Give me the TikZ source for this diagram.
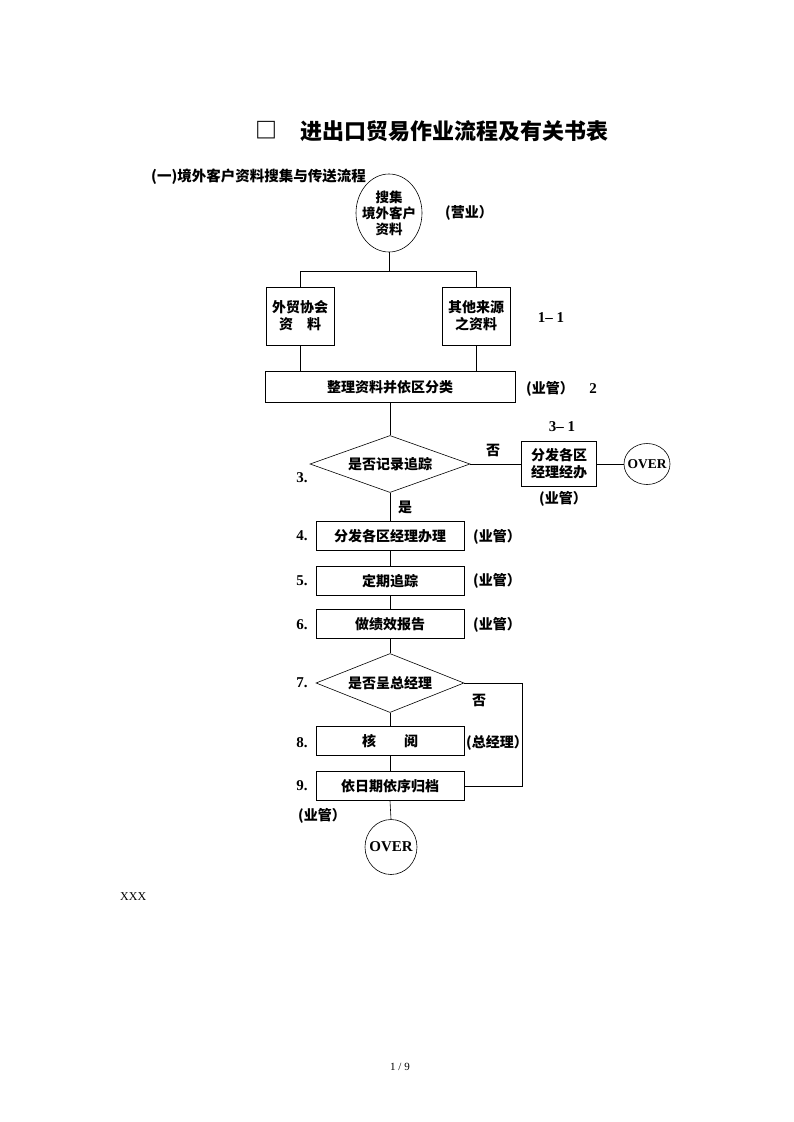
\documentclass[tikz,border=0pt]{standalone}
\usepackage{fontspec}
\setmainfont{Liberation Serif}
\newfontfamily\cjk{Noto Sans CJK SC}
\usepackage{tikz}
\usetikzlibrary{shapes.geometric,positioning}

\begin{document}
\begin{tikzpicture}[x=1pt, y=-1pt,
  every node/.style={inner sep=0pt, font=\cjk\bfseries\fontsize{14}{17}\selectfont},
  stepbox/.style={draw, line width=0.6pt, align=center, minimum width=148pt, minimum height=29pt},
  decision/.style={draw, diamond, line width=0.6pt},
  terminal/.style={draw, ellipse, line width=0.6pt},
  num/.style={font=\bfseries\fontsize{15}{17}\selectfont},
  link/.style={line width=0.6pt}]

\useasboundingbox (0,0) rectangle (793,1122);

% ---- headings ----------------------------------------------------------------
\node[font=\cjk\bfseries\fontsize{22}{26}\selectfont] (tbox) at (266,130) {□};
\node[anchor=west, font=\cjk\bfseries\fontsize{22}{26}\selectfont] (title) at (300,131)
  {进出口贸易作业流程及有关书表};
\node[anchor=west, font=\cjk\bfseries\fontsize{14.5}{17}\selectfont] (sub) at (151,177)
  {(一)境外客户资料搜集与传送流程};

% ---- collecting ----------------------------------------------------------------
\node[terminal, minimum width=66pt, minimum height=78pt,
  label={[align=center, font=\cjk\bfseries\fontsize{13.5}{16}\selectfont]center:搜集\\境外客户\\资料}]
  (collect) at (389,213) {};
\node (n0) at (469,213) {(营业）};

\coordinate (split) at (389,271);
\node[stepbox, minimum width=68pt, minimum height=58pt] (src1) at (300,316) {外贸协会\\资　料};
\node[stepbox, minimum width=68pt, minimum height=58pt] (src2) at (476,316) {其他来源\\之资料};
\node[num] (n11) at (551,318) {1– 1};

\node[stepbox, minimum width=250pt, minimum height=31pt] (sort) at (390,387) {整理资料并依区分类};
\node (n2a) at (550,389) {(业管）};
\node[num] (n2b) at (593,389) {2};

% ---- tracking decision -------------------------------------------------------
\node[decision, aspect=2.8, minimum width=160pt, minimum height=57pt] (chk) at (390,464) {是否记录追踪};
\node[num] (n3) at (302,478) {3.};
\node (no1) at (493,450) {否};
\node[stepbox, minimum width=75pt, minimum height=45pt] (dist) at (559,464) {分发各区\\经理经办};
\node[num] (n31) at (562,427) {3– 1};
\node (n31b) at (563,499) {(业管）};
\node[terminal, minimum width=46pt, minimum height=41pt,
  label={[font=\bfseries\fontsize{13.5}{15}\selectfont]center:OVER}]
  (end1) at (647,464) {};
\node (yes1) at (405,507) {是};

% ---- steps 4 to 6 --------------------------------------------------------------
\node[stepbox] (assign) at (390,536) {分发各区经理办理};
\node[num] (n4) at (302,536) {4.};
\node (n4b) at (497,537) {(业管）};
\node[stepbox] (track) at (390,581) {定期追踪};
\node[num] (n5) at (302,581) {5.};
\node (n5b) at (497,581) {(业管）};
\node[stepbox] (report) at (390,624) {做绩效报告};
\node[num] (n6) at (302,625) {6.};
\node (n6b) at (497,625) {(业管）};

% ---- manager decision and filing ------------------------------------------------
\node[decision, aspect=2.5, minimum width=148pt, minimum height=59pt] (gm) at (390,683) {是否呈总经理};
\node[num] (n7) at (302,683) {7.};
\node (no2) at (479,700) {否};
\coordinate (loop) at (522,683);
\node[stepbox] (review) at (390,741) {核　　阅};
\node[num] (n8) at (302,743) {8.};
\node (n8b) at (497,743) {(总经理）};
\node[stepbox] (file) at (390,786) {依日期依序归档};
\node[num] (n9) at (302,786) {9.};
\node (n9b) at (322,816) {(业管）};
\node[terminal, minimum width=52pt, minimum height=55pt, label={[num]center:OVER}]
  (end2) at (391,847) {};

% ---- connectors ----------------------------------------------------------------
\draw[link] (collect.south) -- (split);
\draw[link] (src1.north) -- (src1.north |- split) -- (src2.north |- split) -- (src2.north);
\draw[link] (src1.south) -- (src1.south |- sort.north);
\draw[link] (src2.south) -- (src2.south |- sort.north);
\draw[link] (sort.south) -- (chk.north);
\draw[link] (chk.east) -- (dist.west);
\draw[link] (dist.east) -- (end1.west);
\draw[link] (chk.south) -- (assign.north);
\draw[link] (assign) -- (track);
\draw[link] (track) -- (report);
\draw[link] (report.south) -- (gm.north);
\draw[link] (gm.south) -- (review.north);
\draw[link] (review) -- (file);
\draw[link] (file.south) -- (end2.north);
\draw[link] (gm.east) -- (loop) |- (file.east);

% ---- page footer ---------------------------------------------------------------
\node[anchor=west, font=\fontsize{12}{14}\selectfont] (xxx) at (120,897) {XXX};
\node[font=\fontsize{11}{13}\selectfont] (page) at (400,1067) {1 / 9};

\end{tikzpicture}
\end{document}
